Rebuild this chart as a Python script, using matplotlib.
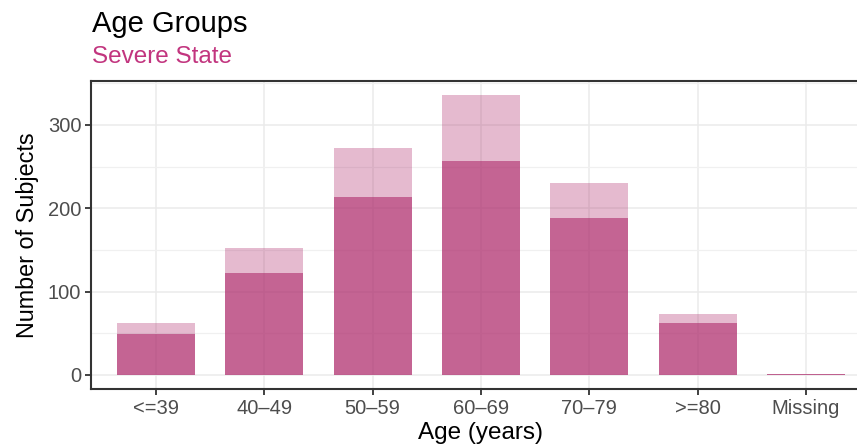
import matplotlib
matplotlib.use("Agg")
import matplotlib.pyplot as plt
from matplotlib.ticker import MultipleLocator
import numpy as np

plt.rcParams['font.family'] = ['Liberation Sans', 'DejaVu Sans']

categories = ["<=39", "40\u201349", "50\u201359", "60\u201369", "70\u201379", ">=80", "Missing"]
severe = [49, 122, 214, 257, 188, 62, 1]
total = [63, 153, 273, 336, 231, 73, 1]
other = [t - s for t, s in zip(total, severe)]

base_color = "#B0306F"

fig = plt.figure(figsize=(8.57, 4.46), dpi=100)
ax = fig.add_axes([91/857, 57/446, 780/857, 308/446])

x = np.arange(len(categories))
ax.bar(x, severe, width=0.72, color=base_color, alpha=0.75, zorder=2, linewidth=0)
ax.bar(x, other, bottom=severe, width=0.72, color=base_color, alpha=0.33, zorder=2, linewidth=0)

ax.set_xlim(-0.6, len(categories) - 0.4)
ax.set_ylim(-16.8, 352.8)
ax.yaxis.set_major_locator(MultipleLocator(100))
ax.yaxis.set_minor_locator(MultipleLocator(50))
ax.set_xticks(x)
ax.set_xticklabels(categories)

ax.grid(True, which='major', color='#EBEBEB', linewidth=1.1, zorder=0)
ax.grid(True, which='minor', axis='y', color='#F0F0F0', linewidth=0.9, zorder=0)
ax.set_axisbelow(True)

for s in ax.spines.values():
    s.set_color('#333333')
    s.set_linewidth(1.5)

ax.tick_params(axis='both', which='major', length=4.5, width=1.3, color='#333333',
               labelsize=14.5, labelcolor='#4D4D4D', pad=2.5)
ax.tick_params(axis='y', which='minor', length=0)

ax.set_xlabel("Age (years)", fontsize=17.5, color='black', labelpad=3)
ax.set_ylabel("Number of Subjects", fontsize=16.8, color='black', labelpad=6)

fig.text(92/857, 1 - 32/446, "Age Groups", fontsize=21, color='black', va='baseline', ha='left')
fig.text(92/857, 1 - 63/446, "Severe State", fontsize=17.5, color='#C2357F', va='baseline', ha='left')

fig.savefig("out.png", dpi=100)
